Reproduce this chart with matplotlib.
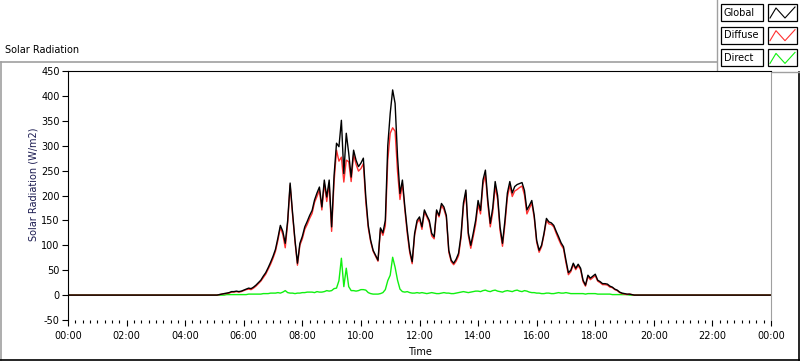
import numpy as np
import pandas as pd
import matplotlib
matplotlib.use("Agg")
import matplotlib.pyplot as plt
import matplotlib.dates as mdates
from matplotlib.patches import Rectangle

plt.rcParams["axes.unicode_minus"] = False

# 5-minute readings from 05:00 to 19:55 (W/m2), one row per hour
global_rad = [
    0, 0, 1, 2, 3, 4, 5, 7, 7, 8, 7, 8,
    10, 12, 14, 13, 16, 20, 25, 30, 38, 45, 55, 66,
    78, 92, 115, 140, 128, 104, 150, 225, 165, 110, 64, 104,
    118, 137, 148, 160, 170, 191, 205, 217, 177, 231, 197, 231,
    137, 240, 305, 298, 351, 244, 325, 285, 237, 291, 271, 258,
    265, 275, 197, 140, 110, 90, 80, 70, 135, 125, 150, 300,
    365, 412, 385, 278, 204, 231, 177, 130, 90, 67, 124, 150,
    157, 137, 171, 160, 150, 124, 117, 171, 160, 184, 177, 160,
    90, 70, 64, 72, 84, 120, 185, 211, 125, 100, 124, 150,
    190, 170, 231, 251, 190, 144, 175, 228, 200, 137, 104, 150,
    205, 228, 205, 218, 222, 224, 226, 210, 171, 180, 190, 160,
    110, 90, 100, 124, 154, 147, 145, 140, 128, 117, 105, 97,
    70, 45, 50, 64, 54, 62, 54, 30, 20, 40, 34, 38,
    42, 30, 27, 23, 23, 22, 18, 16, 12, 10, 6, 4,
    3, 2, 2, 1, 0, 0, 0, 0, 0, 0, 0, 0,
]
diffuse_rad = [
    0, 0, 1, 2, 3, 3, 4, 6, 6, 7, 6, 7,
    9, 11, 12, 11, 14, 18, 23, 28, 35, 42, 52, 62,
    74, 88, 110, 136, 122, 95, 145, 221, 161, 107, 60, 100,
    113, 132, 142, 154, 164, 186, 198, 211, 171, 224, 188, 223,
    128, 227, 291, 269, 277, 227, 271, 268, 228, 282, 263, 249,
    254, 264, 187, 135, 107, 88, 78, 68, 132, 120, 139, 271,
    325, 336, 329, 248, 192, 224, 171, 123, 85, 63, 120, 145,
    153, 132, 167, 157, 146, 119, 113, 168, 157, 180, 172, 156,
    86, 67, 61, 68, 79, 114, 178, 205, 120, 94, 117, 142,
    182, 163, 222, 241, 182, 137, 166, 218, 192, 130, 98, 142,
    196, 220, 198, 209, 212, 216, 219, 201, 163, 174, 185, 155,
    106, 86, 97, 121, 150, 143, 142, 137, 124, 112, 101, 93,
    65, 41, 47, 61, 51, 59, 51, 27, 18, 37, 31, 35,
    39, 28, 25, 21, 21, 20, 16, 15, 11, 9, 5, 3,
    2, 1, 2, 1, 0, 0, 0, 0, 0, 0, 0, 0,
]
direct_rad = [
    0, 0, 0, 0, 0, 1, 1, 1, 1, 1, 1, 1,
    1, 1, 2, 2, 2, 2, 2, 2, 3, 3, 3, 4,
    4, 4, 5, 4, 6, 9, 5, 4, 4, 3, 4, 4,
    5, 5, 6, 6, 6, 5, 7, 6, 6, 7, 9, 8,
    9, 13, 14, 29, 74, 17, 54, 17, 9, 9, 8, 9,
    11, 11, 10, 5, 3, 2, 2, 2, 3, 5, 11, 29,
    40, 76, 56, 30, 12, 7, 6, 7, 5, 4, 4, 5,
    4, 5, 4, 3, 4, 5, 4, 3, 3, 4, 5, 4,
    4, 3, 3, 4, 5, 6, 7, 6, 5, 6, 7, 8,
    8, 7, 9, 10, 8, 7, 9, 10, 8, 7, 6, 8,
    9, 8, 7, 9, 10, 8, 7, 9, 8, 6, 5, 5,
    4, 4, 3, 3, 4, 4, 3, 3, 4, 5, 4, 4,
    5, 4, 3, 3, 3, 3, 3, 3, 2, 3, 3, 3,
    3, 2, 2, 2, 2, 2, 2, 1, 1, 1, 1, 1,
    1, 1, 0, 0, 0, 0, 0, 0, 0, 0, 0, 0,
]

day = pd.Timestamp("2015-06-01")
times = pd.date_range(day + pd.Timedelta(hours=5), periods=len(global_rad), freq="5min")
# night-time zeros at both ends of the day
t_all = [day] + list(times) + [day + pd.Timedelta(days=1)]

def pad(v):
    return [0] + list(v) + [0]

series_names = ["Global", "Diffuse", "Direct"]
series_colors = ["black", "#ff3030", "#10f010"]

fig = plt.figure(figsize=(8, 3.61), dpi=100)

# background layer in pixel coordinates for frame and legend
bg = fig.add_axes([0, 0, 1, 1])
bg.set_xlim(0, 800)
bg.set_ylim(361, 0)
bg.axis("off")
grey = "#a0a0a0"
bg.plot([1, 717], [62, 62], color=grey, lw=1.2)
bg.plot([1, 1], [62, 360], color=grey, lw=1.2)
bg.plot([0, 800], [359.5, 359.5], color="black", lw=1.2)
bg.plot([798.5, 798.5], [72, 360], color="black", lw=1.2)
bg.plot([717, 717], [0, 72], color=grey, lw=1)
bg.plot([717, 800], [72, 72], color=grey, lw=1)
bg.text(5, 50, "Solar Radiation", fontsize=7, va="center", ha="left")

for i, (name, col) in enumerate(zip(series_names, series_colors)):
    y0 = 4 + i * 22.7
    bg.add_patch(Rectangle((721, y0), 42, 17, fill=False, ec="black", lw=0.9))
    bg.add_patch(Rectangle((768, y0), 29, 17, fill=False, ec="black", lw=0.9))
    bg.text(724, y0 + 8.5, name, fontsize=7, va="center", ha="left")
    bg.plot([770, 776, 785, 795], [y0 + 14, y0 + 4, y0 + 14, y0 + 3], color=col, lw=0.8)

ax = fig.add_axes([68 / 800, 41 / 361, 703 / 800, 249 / 361])
ax.plot(t_all, pad(direct_rad), color=series_colors[2], lw=1.0)
ax.plot(t_all, pad(diffuse_rad), color=series_colors[1], lw=1.0)
ax.plot(t_all, pad(global_rad), color=series_colors[0], lw=1.0)

ax.set_xlim(day, day + pd.Timedelta(days=1))
ax.set_ylim(-50, 450)
ax.set_yticks(np.arange(-50, 451, 50))
ax.xaxis.set_major_locator(mdates.HourLocator(byhour=range(0, 24, 2)))
ax.xaxis.set_minor_locator(mdates.MinuteLocator(byminute=[0, 15, 30, 45]))
ax.xaxis.set_major_formatter(mdates.DateFormatter("%H:%M"))

ax.spines["left"].set_color("black")
ax.spines["top"].set_color("black")
ax.spines["right"].set_color(grey)
ax.spines["bottom"].set_visible(False)
ax.tick_params(axis="y", which="major", labelsize=7, length=4, width=0.8, pad=2)
ax.tick_params(axis="x", which="major", labelsize=7, length=4, width=0.8, pad=4)
ax.tick_params(axis="x", which="minor", length=2.5, width=0.8)
ax.set_xlabel("Time", fontsize=7, labelpad=4)
fig.text(34 / 800, 1 - 184 / 361, "Solar Radiation (W/m2)", rotation=90,
         fontsize=7, va="center", ha="center", color="#1a1a50")

fig.savefig("out.png", dpi=100)
